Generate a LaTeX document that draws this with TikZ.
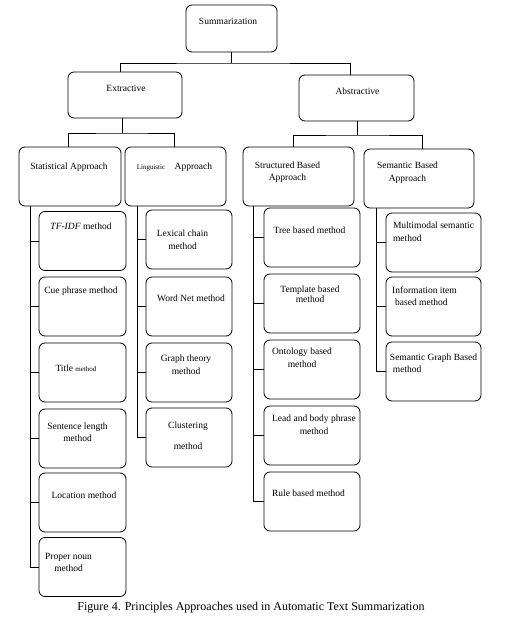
\documentclass[tikz,border=0pt]{standalone}
\usepackage{fontspec}
\setmainfont{Liberation Serif}
\usepackage{tikz}
\usetikzlibrary{positioning}
\tikzstyle{block}=[draw, rectangle, rounded corners=6pt, line width=0.8pt, minimum height=59pt, inner sep=0pt]
\tikzstyle{lbl}=[anchor=center, inner sep=0pt, yshift=-1.5pt, align=center, font=\fontsize{9.5}{12.5}\selectfont]
\tikzstyle{lbll}=[lbl, align=left]
\tikzstyle{statm}=[block, minimum width=87pt]
\tikzstyle{lingm}=[block, minimum width=86pt]
\tikzstyle{strm}=[block, minimum width=96pt]
\tikzstyle{semm}=[block, minimum width=95pt]
\def\tiny{\fontsize{7}{8}\selectfont}

\begin{document}
\begin{tikzpicture}[x=1pt, y=-1pt, line width=0.8pt]
		\useasboundingbox (0,0) rectangle (513,620);
		% top levels
		\node[block, minimum width=91pt, minimum height=47pt] (sum) at (231.5,28.5) {};
		\node[lbl] (sum-t) at ([xshift=-3.5pt, yshift=-15pt]sum.north) {Summarization};
		\node[block, minimum width=114pt, minimum height=46pt] (ext) at (125,95) {};
		\node[lbl] (ext-t) at ([xshift=1pt, yshift=-15pt]ext.north) {Extractive};
		\node[block, minimum width=115pt, minimum height=46pt] (abs) at (356.5,98) {};
		\node[lbl] (abs-t) at ([xshift=1pt, yshift=-15pt]abs.north) {Abstractive};
		% approaches
		\node[block, minimum width=102pt] (stat) at (70,176.5) {};
		\node[lbl] (stat-t) at ([xshift=-1pt, yshift=-19pt]stat.north) {Statistical Approach};
		\node[block, minimum width=101pt] (ling) at (175.5,176.5) {};
		\node[lbl] (ling-t) at ([xshift=-1pt, yshift=-19pt]ling.north) {{\tiny Linguistic}\quad Approach};
		\node[block, minimum width=111pt] (struc) at (298.5,176.5) {};
		\node[lbl] (struc-t) at ([xshift=-11pt, yshift=-24pt]struc.north) {Structured Based\\Approach};
		\node[block, minimum width=110pt] (sem) at (419,178.5) {};
		\node[lbl] (sem-t) at ([xshift=-11.5pt, yshift=-22.5pt]sem.north) {Semantic Based\\Approach};
		% statistical methods
		\node[statm] (tfidf) at (82.5,241) {};
		\node[lbl] (tfidf-t) at ([xshift=-1.5pt, yshift=-14pt]tfidf.north) {\textit{TF-IDF} method};
		\node[statm] (cue) at (82.5,306.5) {};
		\node[lbl] (cue-t) at ([xshift=-1.5pt, yshift=-13pt]cue.north) {Cue phrase method};
		\node[statm] (title) at (82.5,372.5) {};
		\node[lbl] (title-t) at ([xshift=-6.5pt, yshift=-24pt]title.north) {Title {\tiny method}};
		\node[statm] (sent) at (82.5,438.5) {};
		\node[lbl] (sent-t) at ([xshift=-5pt, yshift=-22pt]sent.north) {Sentence length\\method};
		\node[statm] (loc) at (82.5,502.5) {};
		\node[lbl] (loc-t) at ([xshift=1.5pt, yshift=-21pt]loc.north) {Location method};
		\node[statm] (proper) at (82.5,567) {};
		\node[lbl] (proper-t) at ([xshift=-14pt, yshift=-24pt]proper.north) {Proper noun\\method};
		% linguistic methods
		\node[lingm] (lex) at (189,239.5) {};
		\node[lbl] (lex-t) at ([xshift=-6.5pt, yshift=-28.5pt]lex.north) {Lexical chain\\method};
		\node[lingm] (word) at (189,306.5) {};
		\node[lbl] (word-t) at ([xshift=2pt, yshift=-20pt]word.north) {Word Net method};
		\node[lingm] (graph) at (189,372.5) {};
		\node[lbl] (graph-t) at ([xshift=-3pt, yshift=-20.5pt]graph.north) {Graph theory\\method};
		\node[lingm] (clust) at (189,437.5) {};
		\node[lbl] (clust-t) at ([xshift=-1pt, yshift=-26.5pt]clust.north) {Clustering\\[8pt]method};
		% structured methods
		\node[strm] (tree) at (312,237.5) {};
		\node[lbl] (tree-t) at ([xshift=-2.5pt, yshift=-21pt]tree.north) {Tree based method};
		\node[strm] (templ) at (312,303.5) {};
		\node[lbl] (templ-t) at ([xshift=-2pt, yshift=-19pt]templ.north) {Template based\\[-3pt]method};
		\node[strm] (onto) at (312,369.5) {};
		\node[lbl] (onto-t) at ([xshift=-10pt, yshift=-16.5pt]onto.north) {Ontology based\\method};
		\node[strm] (lead) at (312,435.5) {};
		\node[lbl] (lead-t) at ([xshift=2pt, yshift=-17.5pt]lead.north) {Lead and body phrase\\method};
		\node[strm] (rule) at (312,501.5) {};
		\node[lbl] (rule-t) at ([xshift=-3.5pt, yshift=-20pt]rule.north) {Rule based method};
		% semantic methods
		\node[semm] (multi) at (433.5,242.5) {};
		\node[lbll] (multi-t) at ([xshift=0pt, yshift=-17.5pt]multi.north) {Multimodal semantic\\method};
		\node[semm] (info) at (433.5,306.5) {};
		\node[lbll] (info-t) at ([xshift=-9pt, yshift=-18pt]info.north) {Information item\\\hspace*{3pt}based method};
		\node[semm] (semg) at (433.5,371.5) {};
		\node[lbll] (semg-t) at ([xshift=0pt, yshift=-20pt]semg.north) {Semantic Graph Based\\\hspace*{3pt}method};
		% caption
		\node[inner sep=0pt, font=\fontsize{12}{14}\selectfont] (cap) at (251,607.5) {Figure 4. Principles Approaches used in Automatic Text Summarization};
		% tree lines
		\coordinate (j1) at (231,63);
		\draw (sum.south) -- (sum.south |- j1);
		\draw ([xshift=-5pt]ext.north) |- (j1) -| ([xshift=-6.5pt]abs.north);
		\coordinate (j2) at (122,133);
		\draw ([xshift=-3pt]ext.south) -- (j2);
		\draw ([xshift=-2pt]stat.north) |- (j2) -| ([xshift=-1.5pt]ling.north);
		\coordinate (j3) at (357,135);
		\draw ([xshift=0.5pt]abs.south) -- (j3);
		\draw ([xshift=-5.5pt]struc.north) |- (j3) -| ([xshift=3pt]sem.north);
		% trunks
		\coordinate (st) at (30,206);
		\draw (st) |- (proper.west);
		\foreach \n in {tfidf,cue,title,sent,loc} \draw (\n.west -| st) -- (\n.west);
		\coordinate (lt) at (137,206);
		\draw (lt) |- (clust.west);
		\foreach \n in {lex,word,graph} \draw (\n.west -| lt) -- (\n.west);
		\coordinate (rt) at (253,206);
		\draw (rt) |- (rule.west);
		\foreach \n in {tree,templ,onto,lead} \draw (\n.west -| rt) -- (\n.west);
		\coordinate (mt) at (376,208);
		\draw (mt) |- (semg.west);
		\foreach \n in {multi,info} \draw (\n.west -| mt) -- (\n.west);
	\end{tikzpicture}
\end{document}
